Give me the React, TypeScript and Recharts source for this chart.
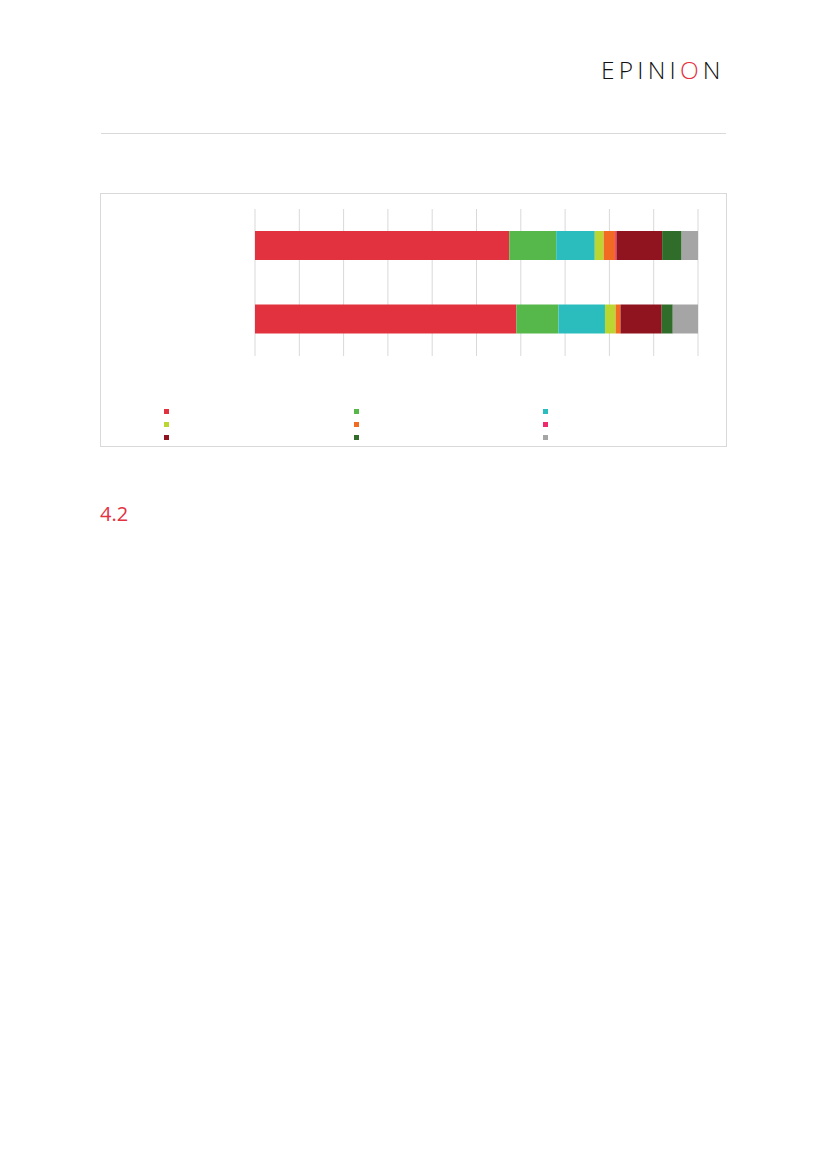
import React from 'react';
import { BarChart, Bar, XAxis, YAxis, CartesianGrid } from 'recharts';

// two survey groups, shares in percent
const categories = ['A', 'B'];
const seriesKeys = ['s1', 's2', 's3', 's4', 's5', 's6', 's7', 's8', 's9'];
const seriesColors = ['#e3323f', '#56b84b', '#2bbdbd', '#bcd631', '#f26b22', '#ee2b6b', '#8f141f', '#306d2b', '#a5a5a5'];
const groupA = [57.4, 10.6, 8.7, 2.0, 2.6, 0.3, 10.3, 4.4, 3.7];
const groupB = [59.0, 9.5, 10.5, 2.4, 1.1, 0.0, 9.3, 2.5, 5.7];
const xTicks = [0, 10, 20, 30, 40, 50, 60, 70, 80, 90, 100];

const rows = [groupA, groupB];
const data = categories.map((name, i) => {
  const row: Record<string, any> = { name };
  seriesKeys.forEach((k, j) => { row[k] = rows[i][j]; });
  return row;
});

const GRID = '#d9d9d9';

function Logo() {
  return (
    <div style={{
      position: 'absolute', left: 601, top: 55, fontFamily: '"Open Sans", sans-serif',
      fontWeight: 300, fontSize: 24.5, letterSpacing: 4.2, color: '#111', lineHeight: '30px'
    }}>
      EPINI<span style={{ color: '#e3323f' }}>O</span>N
    </div>
  );
}

export default function App() {
  return (
    <div style={{ position: 'absolute', left: 0, top: 0, width: 827, height: 1169, background: '#fff' }}>
      <Logo />
      <div style={{ position: 'absolute', left: 101, top: 133, width: 625, height: 1, background: GRID }} />

      <div style={{ position: 'absolute', left: 100, top: 193, width: 625, height: 252, border: `1px solid ${GRID}` }}>
        <BarChart
          width={625}
          height={252}
          data={data}
          layout="vertical"
          margin={{ top: 15, right: 28, left: 154, bottom: 90 }}
          barSize={29}
        >
          <CartesianGrid horizontal={false} stroke={GRID} />
          <XAxis type="number" domain={[0, 100]} ticks={xTicks} hide />
          <YAxis type="category" dataKey="name" hide />
          {seriesKeys.map((k, j) => (
            <Bar key={k} dataKey={k} stackId="a" fill={seriesColors[j]} isAnimationActive={false} />
          ))}
        </BarChart>

        {seriesKeys.map((k, j) => (
          <div
            key={k}
            style={{
              position: 'absolute',
              left: 63 + (j % 3) * 189.5,
              top: 215 + Math.floor(j / 3) * 13,
              width: 5,
              height: 5,
              background: seriesColors[j]
            }}
          />
        ))}
      </div>

      <div style={{
        position: 'absolute', left: 100, top: 501, fontFamily: '"Open Sans", sans-serif',
        fontSize: 20, color: '#e3323f', lineHeight: '26px'
      }}>
        4.2
      </div>
    </div>
  );
}
